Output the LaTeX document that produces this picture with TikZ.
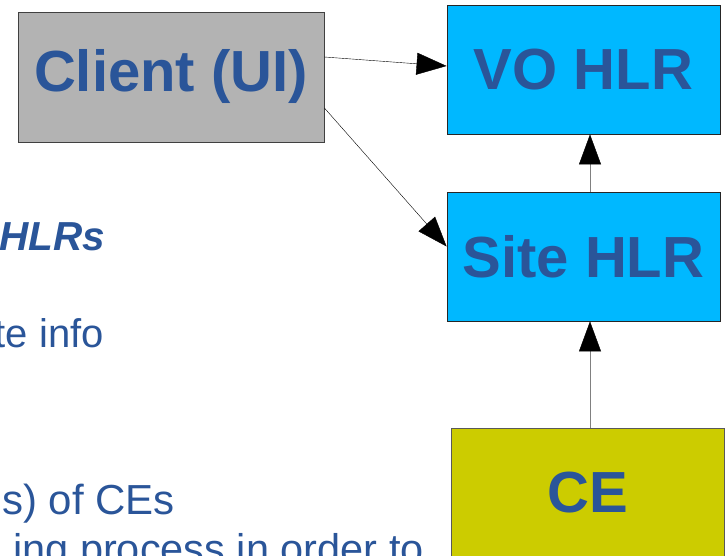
\documentclass[tikz,border=0pt]{standalone}
\usepackage{fontspec}
\setmainfont{Liberation Sans}
\usetikzlibrary{arrows.meta}
\definecolor{txtblue}{HTML}{2A5599}
\definecolor{boxgray}{HTML}{B3B3B3}
\definecolor{hlrcyan}{HTML}{00B8FF}
\definecolor{ceolive}{HTML}{CCCC00}
\tikzset{
  hlrbox/.style={draw=black!80, thick, inner sep=0pt, minimum width=273pt,
    minimum height=129pt, text=txtblue, font=\fontsize{58}{62}\selectfont\bfseries},
  feed/.style={-{Triangle[length=30pt,width=22pt,color=black]}, thin},
  slide/.style={text=txtblue, inner sep=0pt, font=\fontsize{40}{44}\selectfont}
}
\begin{document}
\begin{tikzpicture}[x=1pt, y=-1pt]
    \useasboundingbox (0,0) rectangle (726,556);
    \clip (0,0) rectangle (726,556);

    % Fragmentos del texto de la diapositiva (cortados a la izquierda)
    \node[slide, anchor=base east, font=\fontsize{40.5}{44}\selectfont\bfseries\itshape]
      (t1) at (105,251) {HLRs};
    \node[slide, anchor=base east] (t2) at (104,347) {te info};
    \node[slide, anchor=base east, font=\fontsize{42}{44}\selectfont]
      (t3) at (175,514) {s) of CEs};
    \node[slide, anchor=base east, font=\fontsize{41.5}{44}\selectfont]
      (t4) at (424,563) {ing process in order to};

    % Cajas
    \node[hlrbox, fill=boxgray, draw=black!75, minimum width=306pt, minimum height=130pt]
      (client) at (171,77) {Client (UI)};
    \node[hlrbox, fill=hlrcyan, draw=black!85] (vo) at (583.5,69.5) {VO HLR};
    \node[hlrbox, fill=hlrcyan, draw=black!85] (site) at (583.5,256.5) {Site HLR};
    \node[hlrbox, fill=ceolive, draw=black!65] (ce) at (587.5,492.5) {CE};

    % Flechas
    \draw[feed] ([yshift=20pt]client.east) -- ([yshift=3.5pt]vo.west);
    \draw[feed] ([yshift=-31pt]client.east) -- ([yshift=10pt]site.west);
    \draw[feed, black!50] ([xshift=6.5pt]site.north) -- ([xshift=6.5pt]vo.south);
    \draw[feed, black!50] ([xshift=2.5pt]ce.north) -- ([xshift=6.5pt]site.south);
  \end{tikzpicture}
\end{document}
